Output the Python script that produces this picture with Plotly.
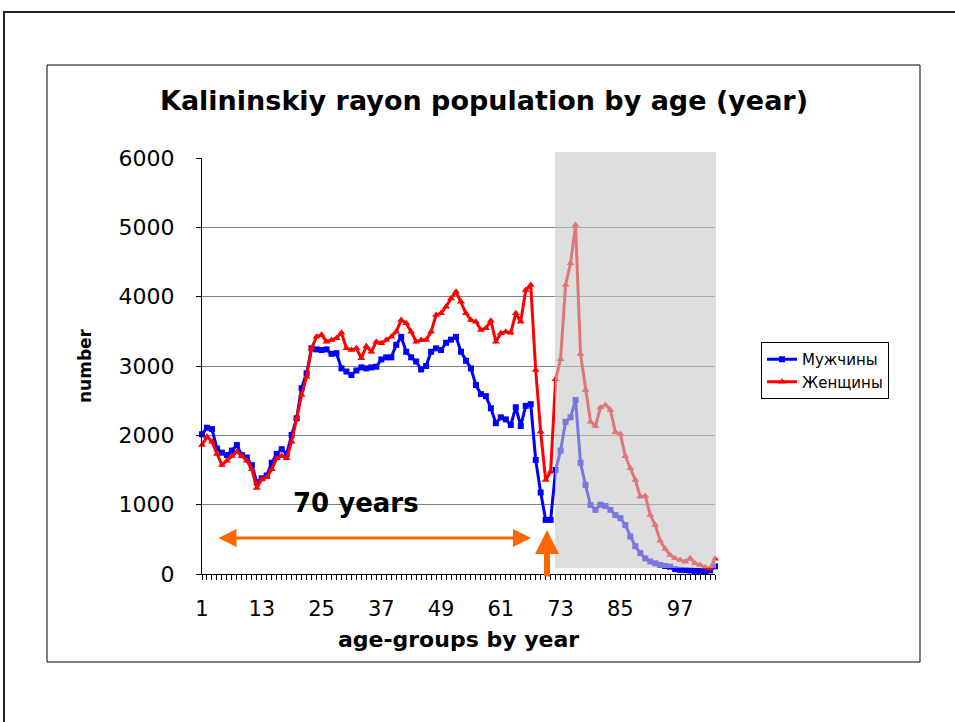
import plotly.graph_objects as go

# ---------------- data ----------------
ages = list(range(1, 105))
men = [2015, 2110, 2090, 1810, 1750, 1715, 1780, 1860, 1715, 1680,
       1570, 1320, 1380, 1420, 1605, 1730, 1800, 1730, 2005, 2245,
       2680, 2895, 3255, 3240, 3230, 3240, 3175, 3185, 2965, 2920,
       2870, 2935, 2980, 2965, 2980, 2990, 3095, 3125, 3125, 3305,
       3420, 3205, 3125, 3065, 2950, 3000, 3205, 3255, 3230, 3335,
       3380, 3420, 3205, 3075, 2965, 2725, 2595, 2565, 2390, 2175,
       2260, 2230, 2150, 2405, 2135, 2425, 2450, 1645, 1175, 780,
       780, 1500, 1780, 2195, 2260, 2510, 1605, 1285, 995, 925,
       1000, 980, 925, 850, 805, 705, 540, 400, 300, 225,
       180, 155, 130, 115, 105, 70, 60, 55, 50, 45,
       45, 40, 50, 110]
women = [1861, 1981, 1909, 1731, 1572, 1635, 1702, 1765, 1702, 1635,
         1510, 1240, 1366, 1394, 1510, 1669, 1702, 1669, 1909, 2245,
         2582, 2846, 3255, 3423, 3450, 3351, 3375, 3400, 3480, 3255,
         3231, 3255, 3110, 3285, 3207, 3351, 3327, 3375, 3423, 3495,
         3663, 3615, 3495, 3351, 3375, 3375, 3495, 3735, 3760, 3855,
         3975, 4072, 3928, 3760, 3663, 3639, 3519, 3544, 3654, 3351,
         3471, 3495, 3481, 3760, 3639, 4095, 4168, 2942, 2053, 1356,
         1476, 2810, 3096, 4168, 4481, 5034, 3173, 2654, 2197, 2135,
         2400, 2438, 2365, 2043, 2019, 1697, 1524, 1356, 1115, 1125,
         851, 707, 480, 360, 274, 226, 202, 178, 226, 154,
         130, 96, 80, 220]
x_tick_start, x_tick_step = 1, 12
y_ticks = [0, 1000, 2000, 3000, 4000, 5000, 6000]

# ---------------- layout helpers (pixel -> paper) ----------------
W, H = 955, 722
L, R, T, B = 202, 715, 158, 574
def px(x):
    return (x - L) / (R - L)
def py(y):
    return (B - y) / (B - T)

ORANGE = "#FF6600"
FONT = "DejaVu Sans"

fig = go.Figure()
fig.add_trace(go.Scatter(
    x=ages, y=men, name="Мужчины", mode="lines+markers",
    line=dict(color="#0000FF", width=3),
    marker=dict(symbol="square", size=6, color="#0000FF"),
    cliponaxis=False))
fig.add_trace(go.Scatter(
    x=ages, y=women, name="Женщины", mode="lines+markers",
    line=dict(color="#FF0000", width=3),
    marker=dict(symbol="triangle-up", size=7, color="#FF0000"),
    cliponaxis=False))

shapes = [
    # outer frame
    dict(type="rect", xref="paper", yref="paper",
         x0=px(4), x1=px(962), y0=py(730), y1=py(12),
         line=dict(color="#222222", width=2), fillcolor="rgba(0,0,0,0)", layer="below"),
    # chart box
    dict(type="rect", xref="paper", yref="paper",
         x0=px(47), x1=px(920), y0=py(662), y1=py(65),
         line=dict(color="black", width=1), fillcolor="rgba(0,0,0,0)", layer="below"),
    # shaded region
    dict(type="rect", xref="paper", yref="paper",
         x0=px(555), x1=px(716), y0=py(568), y1=py(152),
         line=dict(width=0), fillcolor="rgba(200,200,200,0.6)", layer="above"),
]

annotations = [
    dict(text="<b>70 years</b>", xref="paper", yref="paper",
         x=px(356), y=py(503), showarrow=False,
         font=dict(family=FONT, size=26, color="black"),
         xanchor="center", yanchor="middle"),
    dict(text="", xref="paper", yref="paper", x=px(531), y=py(538),
         ax=-(531 - 217), ay=0, showarrow=True, arrowside="end+start",
         arrowhead=2, arrowsize=1.2, arrowwidth=3, arrowcolor=ORANGE, standoff=0, startstandoff=0),
    dict(text="", xref="paper", yref="paper", x=px(547), y=py(530),
         ax=0, ay=578 - 530, showarrow=True,
         arrowhead=2, arrowsize=0.8, arrowwidth=6, arrowcolor=ORANGE, standoff=0),
]

fig.update_layout(
    width=W, height=H,
    margin=dict(l=L, r=W - R, t=T, b=H - B, pad=0),
    paper_bgcolor="white", plot_bgcolor="white",
    font=dict(family=FONT, color="black"),
    title=dict(text="<b>Kalininskiy rayon population by age (year)</b>",
               x=484 / W, xref="container", xanchor="center",
               y=1 - 101 / H, yref="container", yanchor="middle",
               font=dict(family=FONT, size=27, color="black")),
    xaxis=dict(range=[ages[0], ages[-1]], tickmode="linear", tick0=x_tick_start, dtick=x_tick_step,
               ticks="outside", ticklen=5, tickcolor="black", tickwidth=1,
               showline=True, linecolor="black", linewidth=1,
               showgrid=False, zeroline=False,
               tickfont=dict(size=21, color="black"), ticklabelstandoff=11,
               minor=dict(tickmode="linear", tick0=x_tick_start, dtick=1, ticks="outside",
                          ticklen=5, tickcolor="black", tickwidth=1, showgrid=False),
               title=dict(text="<b>age-groups by year</b>", font=dict(size=22, color="black"), standoff=11)),
    yaxis=dict(range=[y_ticks[0], y_ticks[-1]], tickmode="array", tickvals=y_ticks,
               ticks="outside", ticklen=5, tickcolor="black",
               showline=True, linecolor="black", linewidth=1,
               showgrid=True, gridcolor="#808080", gridwidth=1, zeroline=False,
               tickfont=dict(size=22, color="black"), ticklabelstandoff=17,
               title=dict(text="<b>number</b>", font=dict(size=17, color="black"), standoff=22)),
    legend=dict(x=px(761), y=py(342), xanchor="left", yanchor="top",
                bordercolor="black", borderwidth=1, bgcolor="white",
                font=dict(family=FONT, size=15, color="black"),
                itemwidth=30, tracegroupgap=0),
    shapes=shapes,
    annotations=annotations,
)

fig.write_html("out.html",
               config={"displayModeBar": False},
               post_script="document.body.style.margin='0';document.body.style.padding='0';")
